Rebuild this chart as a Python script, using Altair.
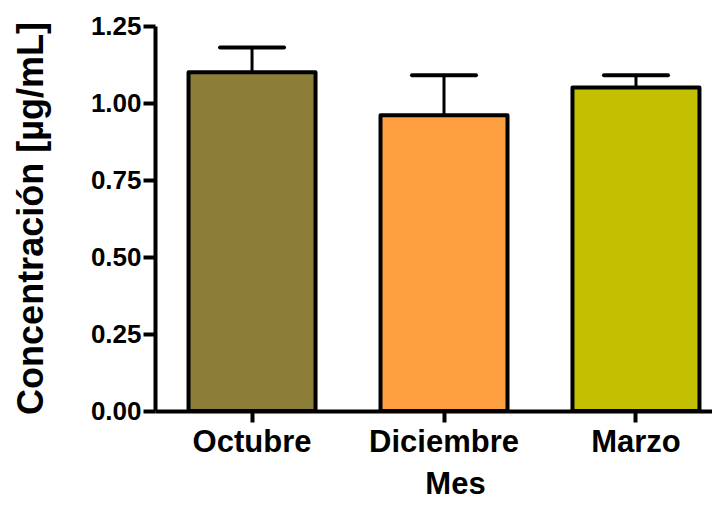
import altair as alt
import pandas as pd

meses = ["Octubre", "Diciembre", "Marzo"]
media = [1.10, 0.96, 1.05]
superior = [1.18, 1.09, 1.09]
colores = ["#8C7D38", "#FFA040", "#C2C000"]
y_ticks = [0.0, 0.25, 0.5, 0.75, 1.0, 1.25]

df = pd.DataFrame({"mes": meses, "media": media, "sup": superior})

FONT = "Liberation Sans"

xscale = alt.Scale(domain=meses, paddingInner=0.3385, paddingOuter=0.12, align=0.728)
yscale = alt.Scale(domain=[0, 1.25], nice=False)

x_axis = alt.Axis(
    title="Mes", labelAngle=0, domainWidth=4, domainColor="black",
    tickWidth=4, tickSize=11, tickColor="black",
    labelFont=FONT, labelFontSize=31, labelFontWeight="bold", labelColor="black",
    labelPadding=5,
    titleFont=FONT, titleFontSize=31, titleFontWeight="bold", titleColor="black",
    titleX=300, titleY=82, titleBaseline="alphabetic", titleAlign="center",
)
y_axis = alt.Axis(
    title="Concentración [µg/mL]", values=y_ticks, format=".2f",
    domainWidth=4, domainColor="black", tickWidth=4, tickSize=12, tickColor="black",
    labelFont=FONT, labelFontSize=26, labelFontWeight="bold", labelColor="black",
    labelPadding=2, grid=False,
    titleFont=FONT, titleFontSize=36, titleFontWeight="bold", titleColor="black",
    titleX=-113, titleY=192, titleBaseline="alphabetic", titleAlign="center", titleAngle=-90,
)

base = alt.Chart(df)

stem = base.mark_rule(color="black", strokeWidth=3).encode(
    x=alt.X("mes:N", sort=meses, scale=xscale, axis=x_axis),
    y=alt.Y("media:Q", scale=yscale, axis=y_axis),
    y2="sup:Q",
)
cap = base.mark_rule(color="black", strokeWidth=4, strokeCap="round", xOffset=-32, x2Offset=32).encode(
    x=alt.X("mes:N", sort=meses, scale=xscale),
    x2="mes:N",
    y=alt.Y("sup:Q", scale=yscale),
)
bars = base.mark_bar(stroke="black", strokeWidth=4, strokeJoin="round").encode(
    x=alt.X("mes:N", sort=meses, scale=xscale),
    y=alt.Y("media:Q", scale=yscale),
    color=alt.Color("mes:N", scale=alt.Scale(domain=meses, range=colores), legend=None),
)

chart = alt.layer(stem, cap, bars).properties(
    width=557, height=385, autosize="none",
    padding={"left": 147, "top": 18, "right": 0, "bottom": 89},
).configure_view(stroke=None)

chart.save("out.html", embed_options={"renderer": "svg", "actions": False})
